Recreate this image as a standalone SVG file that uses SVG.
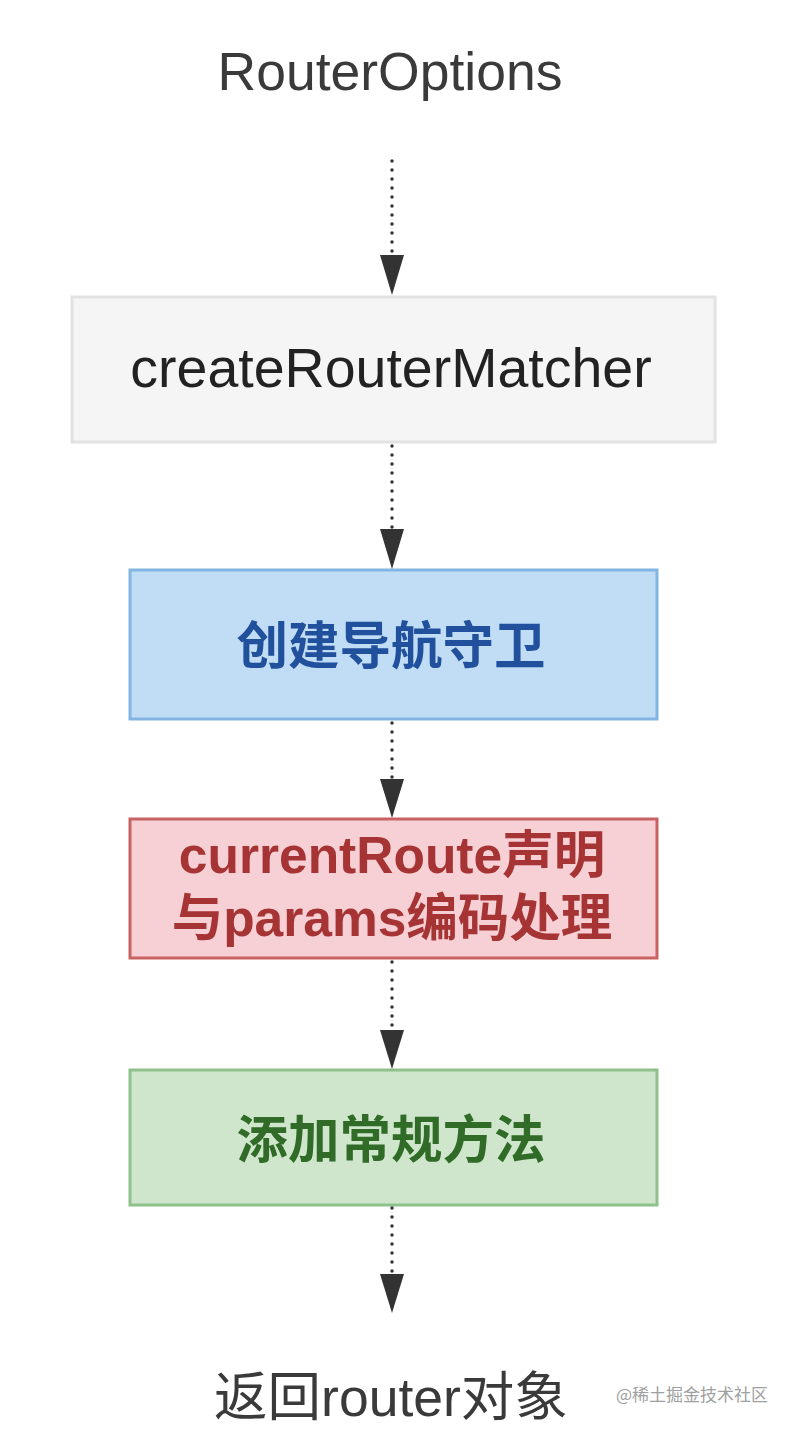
<svg xmlns="http://www.w3.org/2000/svg" width="792" height="1456" viewBox="0 0 792 1456">
<style>
.t{font-family:"Liberation Sans","Noto Sans CJK SC",sans-serif;text-anchor:middle}
.plain{fill:#3a3a3a;font-size:53.5px}
.box{stroke-width:3}
.lbl{font-size:51.5px;font-weight:bold}
.dot{stroke:#333;stroke-width:3.5;stroke-dasharray:0 9;stroke-linecap:round;fill:none}
.head{fill:#333}
</style>
<rect width="792" height="1456" fill="#ffffff"/>
<g id="n0"><text class="t plain" x="390" y="90">RouterOptions</text></g>
<g id="n1">
<rect class="box" x="72" y="297" width="643" height="145" fill="#f5f5f5" stroke="#e2e2e2"/>
<text class="t" x="391" y="387" font-size="55.5" fill="#222">createRouterMatcher</text>
</g>
<g id="n2">
<rect class="box" x="130" y="570" width="527" height="149" fill="#c1ddf6" stroke="#82b5e2"/>
<text class="t lbl" x="391" y="664" fill="#21509c">创建导航守卫</text>
</g>
<g id="n3">
<rect class="box" x="130" y="819" width="527" height="139" fill="#f6d0d4" stroke="#c96262"/>
<text class="t lbl" x="392" y="873" font-size="49.5" fill="#a63434">currentRoute声明</text>
<text class="t lbl" x="392" y="936" font-size="49.5" fill="#a63434">与params编码处理</text>
</g>
<g id="n4">
<rect class="box" x="130" y="1070" width="527" height="135" fill="#cfe6cd" stroke="#8fc18b"/>
<text class="t lbl" x="391" y="1158" fill="#306b27">添加常规方法</text>
</g>
<g id="n5"><text class="t plain" x="391" y="1416">返回router对象</text></g>
<g id="connectors">
<line class="dot" x1="392" y1="161" x2="392" y2="254"/>
<polygon class="head" points="380,255 404,255 392,295"/>
<line class="dot" x1="392" y1="446" x2="392" y2="528"/>
<polygon class="head" points="380,529 404,529 392,569"/>
<line class="dot" x1="392" y1="723" x2="392" y2="778"/>
<polygon class="head" points="380,779 404,779 392,818"/>
<line class="dot" x1="392" y1="962" x2="392" y2="1028"/>
<polygon class="head" points="380,1030 404,1030 392,1069"/>
<line class="dot" x1="392" y1="1208" x2="392" y2="1272"/>
<polygon class="head" points="380,1274 404,1274 392,1313"/>
</g>
<text x="692" y="1401" font-family="'Noto Sans CJK SC',sans-serif" font-size="17" fill="#a0a0a0" text-anchor="middle">@稀土掘金技术社区</text>
</svg>
